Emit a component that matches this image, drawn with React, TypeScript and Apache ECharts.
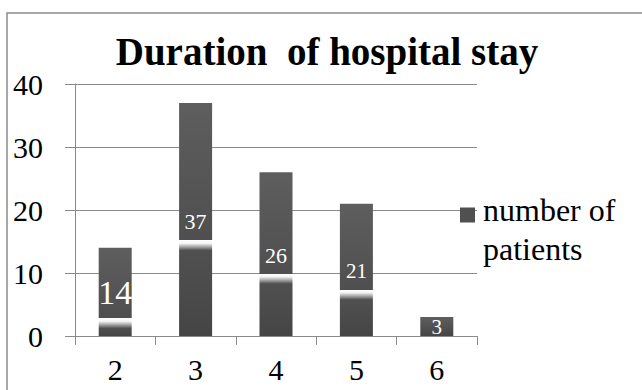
import React, { useEffect, useRef } from "react";
import * as echarts from "echarts";

// Length of stay (days) and how many patients stayed that long
const stayDays = ["2", "3", "4", "5", "6"];
const patientCounts = [14, 37, 26, 21, 3];
const yTicks = { min: 0, max: 40, interval: 10 };

// Glossy highlight band on each bar, as a fraction of bar height from the top
const highlightAt = [0.8, 0.59, 0.62, 0.65, null];
// Per-bar value label font sizes
const labelSizes = [34, 22, 22, 21, 21];

const FONT = "'Liberation Serif', 'Times New Roman', serif";
const PX_PER_UNIT = 6.3;
const BAR_GREY = "#505050";

function barFill(value: number, f: number | null) {
  const top = "#5e5e5e";
  const bottom = "#454545";
  if (f == null) {
    return new echarts.graphic.LinearGradient(0, 0, 0, 1, [
      { offset: 0, color: top },
      { offset: 1, color: bottom },
    ]);
  }
  const h = value * PX_PER_UNIT;
  const white = Math.min(1, f + 3 / h);
  const fade = Math.min(1, f + 10 / h);
  return new echarts.graphic.LinearGradient(0, 0, 0, 1, [
    { offset: 0, color: top },
    { offset: f, color: "#4f4f4f" },
    { offset: f, color: "#ffffff" },
    { offset: white, color: "#f4f4f4" },
    { offset: fade, color: "#505050" },
    { offset: 1, color: bottom },
  ]);
}

export default function App() {
  const ref = useRef<HTMLDivElement>(null);

  useEffect(() => {
    document.body.style.margin = "0";
    const chart = echarts.init(ref.current!, null, { renderer: "svg" });
    const data = patientCounts.map((v, i) => ({
      value: v,
      itemStyle: { color: barFill(v, highlightAt[i]) },
      label: { fontSize: labelSizes[i] },
    }));

    chart.setOption({
      animation: false,
      backgroundColor: "#ffffff",
      textStyle: { fontFamily: FONT },
      title: {
        text: "Duration  of hospital stay",
        left: 322,
        textAlign: "center",
        top: 27,
        textStyle: {
          fontFamily: FONT,
          fontSize: 39,
          fontWeight: "bold",
          color: "#000000",
        },
      },
      graphic: [
        {
          type: "rect",
          shape: { x: 7, y: 13, width: 700, height: 500 },
          style: { fill: "none", stroke: "#8a8a8a", lineWidth: 1.5 },
          silent: true,
        },
      ],
      legend: {
        left: 460,
        top: 171,
        padding: 0,
        itemWidth: 15,
        itemHeight: 15,
        icon: "rect",
        itemStyle: { color: BAR_GREY },
        // leading spacer line keeps the square beside the first text line
        formatter: () => "{s| }\n{t|number of}\n{t|patients}",
        textStyle: {
          fontFamily: FONT,
          color: "#000000",
          rich: {
            s: { fontSize: 10, lineHeight: 29 },
            t: {
              fontFamily: FONT,
              fontSize: 32,
              lineHeight: 39,
              color: "#000000",
              padding: [0, 0, 0, 3],
            },
          },
        },
      },
      grid: { left: 75, right: 165, top: 84, bottom: 54 },
      xAxis: {
        type: "category",
        data: stayDays,
        axisLine: { lineStyle: { color: "#8a8a8a", width: 1 } },
        axisTick: { show: true, length: 9, lineStyle: { color: "#8a8a8a" } },
        axisLabel: {
          fontFamily: FONT,
          fontSize: 30,
          color: "#000000",
          margin: 18,
        },
      },
      yAxis: {
        type: "value",
        min: yTicks.min,
        max: yTicks.max,
        interval: yTicks.interval,
        axisLine: { show: true, lineStyle: { color: "#8a8a8a", width: 1 } },
        axisTick: {
          show: true,
          inside: false,
          length: 10,
          lineStyle: { color: "#8a8a8a" },
        },
        splitLine: { lineStyle: { color: "#8a8a8a", width: 1 } },
        axisLabel: {
          fontFamily: FONT,
          fontSize: 30,
          color: "#000000",
          margin: 32,
        },
      },
      series: [
        {
          name: "number of patients",
          type: "bar",
          barWidth: 33,
          itemStyle: { color: BAR_GREY },
          data,
          label: {
            show: true,
            position: ["50%", "51%"],
            align: "center",
            verticalAlign: "middle",
            color: "#ffffff",
            fontFamily: FONT,
          },
        },
      ],
    });
    return () => chart.dispose();
  }, []);

  return <div ref={ref} style={{ width: 642, height: 390 }} />;
}
